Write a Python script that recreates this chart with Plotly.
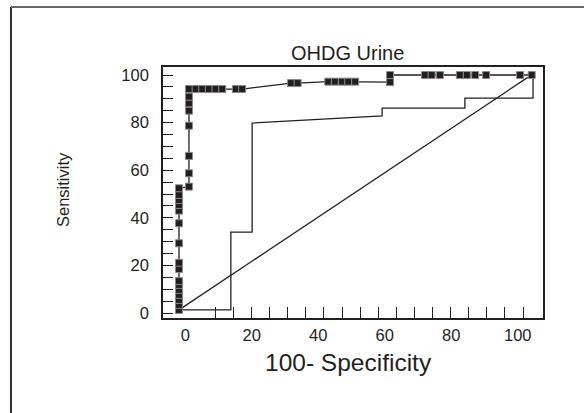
import plotly.graph_objects as go

# ---- data ----
# ROC points with markers
col1_x = [-1.9] * 16
col1_y = [1.3, 3.4, 5.5, 7.6, 9.7, 11.8, 13.4, 18.5, 21.1, 29.3, 37.7, 43.0, 45.4, 47.5, 49.6, 52.4]
col2_x = [1.1] * 8
col2_y = [53.1, 58.7, 66.0, 78.7, 85.0, 88.1, 90.9, 94.1]
row_x = [3.1, 5.1, 7.1, 9.1, 11.1, 15.2, 17.1, 31.8, 33.8, 43.0, 45.0, 47.1, 49.0, 51.1,
         61.6, 61.6, 72.1, 74.1, 76.6, 82.6, 84.7, 87.2, 90.5, 100.7, 104.2]
row_y = [94.1] * 7 + [96.6, 96.6] + [97.2] * 5 + [97.0, 100.0] + [100.0] * 9

# second (step) curve without markers
step_x = [-1.9, 13.7, 13.7, 20.1, 20.1, 59.2, 59.2, 84.1, 84.1, 104.6, 104.6]
step_y = [1.3, 1.3, 34.0, 34.0, 79.8, 82.8, 86.1, 86.1, 90.3, 90.3, 99.5]

# diagonal reference line
diag_x = [-1.9, 103.0]
diag_y = [1.3, 99.0]

x_ticks = [0, 20, 40, 60, 80, 100]
y_ticks = [0, 20, 40, 60, 80, 100]
x_minor_ticks = list(range(15, 101, 5))

title_text = "OHDG Urine"
x_title = "100- Specificity"
y_title = "Sensitivity"

INK = "#231f20"
FONT = "Liberation Sans, Arial, sans-serif"

fig = go.Figure()

fig.add_trace(go.Scatter(x=diag_x, y=diag_y, mode="lines",
                         line=dict(color=INK, width=1.3), showlegend=False, hoverinfo="skip"))
fig.add_trace(go.Scatter(x=step_x, y=step_y, mode="lines",
                         line=dict(color=INK, width=1.3), showlegend=False, hoverinfo="skip"))
fig.add_trace(go.Scatter(x=col1_x + col2_x + row_x, y=col1_y + col2_y + row_y,
                         mode="lines+markers",
                         line=dict(color=INK, width=1.3),
                         marker=dict(symbol="square", size=7, color=INK,
                                     line=dict(color="#8a8a8a", width=1)),
                         showlegend=False, hoverinfo="skip"))
# carrier for the tick-only overlay axis
fig.add_trace(go.Scatter(x=[None], y=[None], xaxis="x2", showlegend=False, hoverinfo="skip"))

fig.update_layout(
    width=584, height=413,
    margin=dict(l=163, r=41, t=67, b=95),
    paper_bgcolor="white", plot_bgcolor="white",
    font=dict(family=FONT, color=INK, size=16),
    xaxis=dict(range=[-6.71, 107.6], tickvals=x_ticks, ticks="", showgrid=False, zeroline=False,
               showline=True, mirror=True, linecolor=INK, linewidth=1.6,
               tickfont=dict(size=16.5, family=FONT, color=INK), ticklabelstandoff=1),
    xaxis2=dict(overlaying="x", anchor="y", side="bottom", range=[0.55, 105.5],
                tickvals=x_minor_ticks, ticks="inside", ticklen=11, tickwidth=1, tickcolor=INK,
                showticklabels=False, showgrid=False, zeroline=False, showline=False),
    yaxis=dict(range=[-2.1, 103.36], tickvals=y_ticks, ticks="inside", ticklen=10, tickwidth=1,
               tickcolor=INK, showgrid=False, zeroline=False,
               showline=True, mirror=True, linecolor=INK, linewidth=1.6,
               minor=dict(dtick=5, tick0=0, ticks="inside", ticklen=10, tickwidth=1, tickcolor=INK,
                          showgrid=False),
               tickfont=dict(size=16.5, family=FONT, color=INK), ticklabelstandoff=9),
    annotations=[
        dict(text=title_text, xref="paper", yref="paper", x=0.486, y=1.056,
             xanchor="center", yanchor="middle", showarrow=False,
             font=dict(size=20, family=FONT, color=INK)),
        dict(text=x_title, xref="paper", yref="paper", x=0.489, y=-0.179,
             xanchor="center", yanchor="middle", showarrow=False,
             font=dict(size=24.5, family=FONT, color=INK)),
        dict(text=y_title, xref="paper", yref="paper", x=-0.263, y=0.51,
             xanchor="center", yanchor="middle", showarrow=False, textangle=-90,
             font=dict(size=16.5, family=FONT, color=INK)),
    ],
    shapes=[
        dict(type="line", xref="paper", yref="paper", x0=-0.4, x1=-0.4, y0=-0.5, y1=1.239,
             line=dict(color="#333333", width=2)),
        dict(type="line", xref="paper", yref="paper", x0=-0.4, x1=1.2, y0=1.239, y1=1.239,
             line=dict(color="#666666", width=2)),
    ],
)

fig.write_html("out.html", config={"displayModeBar": False},
               post_script="document.body.style.margin='0';")
